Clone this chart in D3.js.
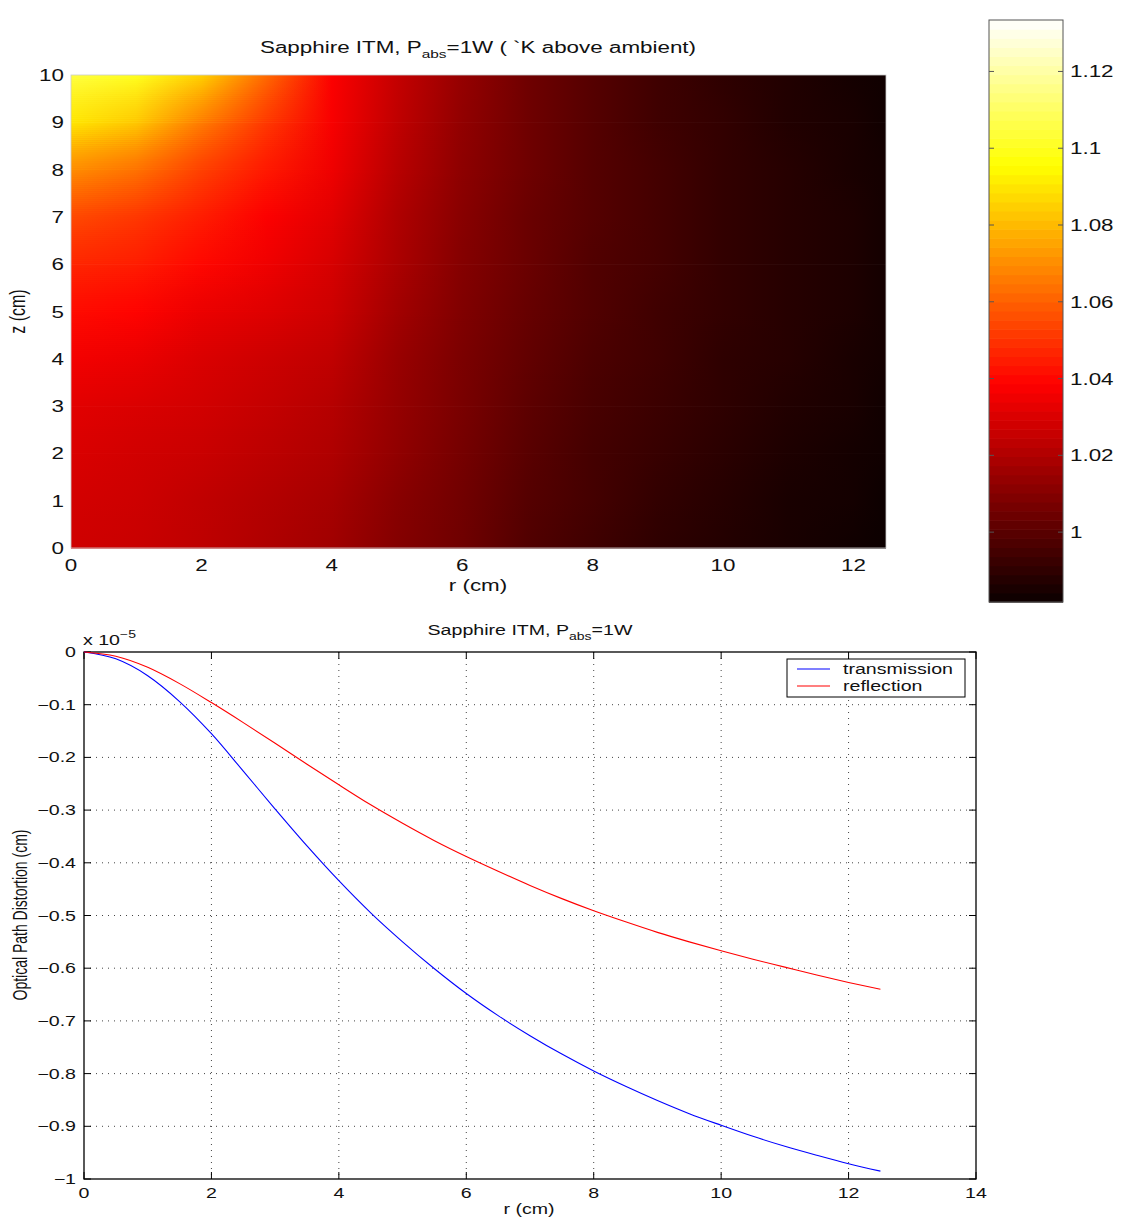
<!DOCTYPE html>
<html>
<head>
<meta charset="UTF-8">
<title>Sapphire ITM</title>
<script src="https://cdn.jsdelivr.net/npm/d3@7"></script>
<style>
  body { margin: 0; background: #fff; }
  svg { display: block; font-family: "Liberation Sans", Arial, sans-serif; }
</style>
</head>
<body>
<svg id="fig" width="1133" height="1224"></svg>
<script>
// ---- top panel: temperature above ambient (K) ----
var rGrid = [0, 1, 2, 3, 4, 5, 6, 7, 8, 9, 10, 11, 12, 12.5];
var zGrid = [10, 9, 8, 7, 6, 5, 4, 3, 2, 1, 0];
var temp = [
  [1.105, 1.100, 1.085, 1.062, 1.038, 1.025, 1.014, 1.005, 0.999, 0.994, 0.990, 0.987, 0.984, 0.983],
  [1.090, 1.083, 1.066, 1.051, 1.037, 1.024, 1.013, 1.005, 0.999, 0.994, 0.991, 0.987, 0.985, 0.983],
  [1.070, 1.064, 1.053, 1.044, 1.035, 1.022, 1.012, 1.005, 0.999, 0.995, 0.991, 0.988, 0.985, 0.984],
  [1.055, 1.051, 1.045, 1.038, 1.032, 1.020, 1.011, 1.004, 0.999, 0.995, 0.991, 0.988, 0.986, 0.984],
  [1.047, 1.045, 1.040, 1.035, 1.029, 1.019, 1.010, 1.004, 0.998, 0.995, 0.991, 0.988, 0.986, 0.984],
  [1.041, 1.039, 1.034, 1.031, 1.027, 1.017, 1.009, 1.003, 0.998, 0.994, 0.991, 0.988, 0.986, 0.984],
  [1.036, 1.034, 1.030, 1.027, 1.024, 1.015, 1.008, 1.002, 0.997, 0.994, 0.990, 0.988, 0.985, 0.984],
  [1.032, 1.030, 1.028, 1.025, 1.0215, 1.014, 1.0075, 1.001, 0.996, 0.993, 0.990, 0.987, 0.985, 0.983],
  [1.030, 1.028, 1.026, 1.023, 1.020, 1.013, 1.0065, 1.000, 0.995, 0.992, 0.989, 0.986, 0.984, 0.983],
  [1.0285, 1.027, 1.024, 1.021, 1.018, 1.011, 1.0055, 0.999, 0.995, 0.991, 0.988, 0.985, 0.984, 0.982],
  [1.0275, 1.026, 1.0235, 1.020, 1.0165, 1.010, 1.005, 0.998, 0.994, 0.990, 0.9875, 0.985, 0.983, 0.982]
];
var heatXTicks = [0, 2, 4, 6, 8, 10, 12];
var heatYTicks = [0, 1, 2, 3, 4, 5, 6, 7, 8, 9, 10];
var cbarTicks = [1, 1.02, 1.04, 1.06, 1.08, 1.1, 1.12];
var cbarRange = [0.9818, 1.1334];

// ---- bottom panel: optical path distortion (x 1e-5 cm) ----
var rLine = [0, 0.5, 1, 1.5, 2, 2.5, 3, 3.5, 4, 4.5, 5, 5.5, 6, 6.5, 7, 7.5, 8, 8.5, 9, 9.5, 10, 10.5, 11, 11.5, 12, 12.5];
var transmission = [0, -0.013, -0.045, -0.094, -0.155, -0.226, -0.298, -0.368, -0.434, -0.495, -0.550, -0.601, -0.648, -0.690,
  -0.728, -0.763, -0.795, -0.824, -0.851, -0.876, -0.898, -0.919, -0.938, -0.955, -0.971, -0.985];
var reflection = [0, -0.008, -0.029, -0.060, -0.096, -0.134, -0.173, -0.213, -0.252, -0.290, -0.325, -0.358, -0.388, -0.416,
  -0.443, -0.468, -0.491, -0.512, -0.532, -0.550, -0.567, -0.583, -0.598, -0.613, -0.627, -0.640];
var lineXTicks = [0, 2, 4, 6, 8, 10, 12, 14];
var lineYTicks = [0, -0.1, -0.2, -0.3, -0.4, -0.5, -0.6, -0.7, -0.8, -0.9, -1];

var svg = d3.select("#fig");
var defs = svg.append("defs");
var STRETCH = 1.4;   // the original figure was widened, so its lettering is too

// text drawn with the horizontal stretch of the source picture
function label(g, x, y, size, anchor) {
  return g.append("text")
    .attr("transform", "translate(" + x + "," + y + ") scale(" + STRETCH + ",1)")
    .attr("font-size", size)
    .attr("text-anchor", anchor || "middle")
    .attr("fill", "#111");
}

// MATLAB "hot" colormap over the colorbar range
var span = cbarRange[1] - cbarRange[0];
var hot = d3.scaleLinear()
  .domain([cbarRange[0], cbarRange[0] + 0.375 * span, cbarRange[0] + 0.75 * span, cbarRange[1]])
  .range(["#0b0000", "#ff0000", "#ffff00", "#ffffff"])
  .clamp(true);

// ================= heat map =================
var xH = d3.scaleLinear().domain([0, 12.5]).range([71, 886]);
var yH = d3.scaleLinear().domain([0, 10]).range([548, 75]);

// one horizontal gradient per z row of the grid
zGrid.forEach(function (z, j) {
  var grad = defs.append("linearGradient").attr("id", "row" + j)
    .attr("gradientUnits", "userSpaceOnUse")
    .attr("x1", xH(0)).attr("x2", xH(12.5)).attr("y1", 0).attr("y2", 0);
  rGrid.forEach(function (r, i) {
    grad.append("stop")
      .attr("offset", (xH(r) - xH(0)) / (xH(12.5) - xH(0)))
      .attr("stop-color", hot(temp[j][i]));
  });
});

// between two rows: lower layer is row j, row j+1 is faded in over thin strips
var nStrips = 24;
var heat = svg.append("g");
d3.range(zGrid.length - 1).forEach(function (j) {
  var y0 = yH(zGrid[j]), y1 = yH(zGrid[j + 1]);
  var h = (y1 - y0) / nStrips;
  heat.append("rect")
    .attr("x", xH(0)).attr("width", xH(12.5) - xH(0))
    .attr("y", y0).attr("height", y1 - y0 + 0.5)
    .attr("fill", "url(#row" + j + ")");
  heat.selectAll("rect.s" + j)
    .data(d3.range(nStrips))
    .enter().append("rect").attr("class", "s" + j)
    .attr("x", xH(0)).attr("width", xH(12.5) - xH(0))
    .attr("y", function (k) { return y0 + k * h; })
    .attr("height", h + 0.3)
    .attr("fill", "url(#row" + (j + 1) + ")")
    .attr("fill-opacity", function (k) { return (k + 0.5) / nStrips; });
});

svg.append("rect")
  .attr("x", xH(0)).attr("y", yH(10))
  .attr("width", xH(12.5) - xH(0)).attr("height", yH(0) - yH(10))
  .attr("fill", "none").attr("stroke", "#ccc").attr("stroke-width", 0.8);

var topG = svg.append("g");
heatXTicks.forEach(function (v) {
  label(topG, xH(v), 571, 16).text(v);
});
heatYTicks.forEach(function (v) {
  label(topG, 64, yH(v) + 6, 16, "end").text(v);
});
label(topG, 478, 591, 16).text("r (cm)");
topG.append("text")
  .attr("transform", "translate(25," + yH(5) + ") rotate(-90) scale(1," + STRETCH + ")")
  .attr("font-size", 16).attr("text-anchor", "middle").attr("fill", "#111")
  .text("z (cm)");

var t1 = label(topG, 478, 53, 16);
t1.append("tspan").text("Sapphire ITM, P");
t1.append("tspan").attr("dy", 5).attr("font-size", 11).text("abs");
t1.append("tspan").attr("dy", -5).text("=1W ( `K above ambient)");

// ================= colorbar =================
var cbX = 989, cbW = 74;
var yC = d3.scaleLinear().domain(cbarRange).range([602, 20]);
var nColors = 64;
var levels = d3.range(nColors).map(function (k) { return cbarRange[0] + k * span / nColors; });

svg.append("g").selectAll("rect")
  .data(levels)
  .enter().append("rect")
  .attr("x", cbX).attr("width", cbW)
  .attr("y", function (v) { return yC(v + span / nColors); })
  .attr("height", function (v) { return yC(v) - yC(v + span / nColors) + 0.6; })
  .attr("fill", function (v) { return hot(v + span / nColors / 2); });

svg.append("rect")
  .attr("x", cbX).attr("y", yC(cbarRange[1]))
  .attr("width", cbW).attr("height", yC(cbarRange[0]) - yC(cbarRange[1]))
  .attr("fill", "none").attr("stroke", "#555").attr("stroke-width", 1);

var cbG = svg.append("g");
cbarTicks.forEach(function (v) {
  var y = yC(v);
  cbG.append("line").attr("x1", cbX).attr("x2", cbX + 5).attr("y1", y).attr("y2", y)
    .attr("stroke", "#555");
  cbG.append("line").attr("x1", cbX + cbW - 5).attr("x2", cbX + cbW).attr("y1", y).attr("y2", y)
    .attr("stroke", "#555");
  label(cbG, cbX + cbW + 7, y + 6, 16, "start").text(+v.toFixed(2));
});

// ================= line chart =================
var x = d3.scaleLinear().domain([0, 14]).range([84, 976]);
var y = d3.scaleLinear().domain([-1, 0]).range([1179, 652]);
var fmt = d3.format("~g");
var bot = svg.append("g");

// dotted grid
bot.selectAll("line.gx")
  .data(lineXTicks.slice(1, -1))
  .enter().append("line").attr("class", "gx")
  .attr("x1", function (d) { return x(d); }).attr("x2", function (d) { return x(d); })
  .attr("y1", y(0)).attr("y2", y(-1))
  .attr("stroke", "#444").attr("stroke-width", 1).attr("stroke-dasharray", "1,5");
bot.selectAll("line.gy")
  .data(lineYTicks.slice(1, -1))
  .enter().append("line").attr("class", "gy")
  .attr("y1", function (d) { return y(d); }).attr("y2", function (d) { return y(d); })
  .attr("x1", x(0)).attr("x2", x(14))
  .attr("stroke", "#444").attr("stroke-width", 1).attr("stroke-dasharray", "1,5");

// ticks pointing inwards on all four sides
lineXTicks.forEach(function (v) {
  bot.append("line").attr("x1", x(v)).attr("x2", x(v)).attr("y1", y(-1)).attr("y2", y(-1) - 7).attr("stroke", "#000");
  bot.append("line").attr("x1", x(v)).attr("x2", x(v)).attr("y1", y(0)).attr("y2", y(0) + 7).attr("stroke", "#000");
  label(bot, x(v), y(-1) + 19, 14).text(fmt(v));
});
lineYTicks.forEach(function (v) {
  bot.append("line").attr("x1", x(0)).attr("x2", x(0) + 7).attr("y1", y(v)).attr("y2", y(v)).attr("stroke", "#000");
  bot.append("line").attr("x1", x(14)).attr("x2", x(14) - 7).attr("y1", y(v)).attr("y2", y(v)).attr("stroke", "#000");
  label(bot, x(0) - 8, y(v) + 5, 14, "end").text(fmt(v));
});

bot.append("rect")
  .attr("x", x(0)).attr("y", y(0))
  .attr("width", x(14) - x(0)).attr("height", y(-1) - y(0))
  .attr("fill", "none").attr("stroke", "#000").attr("stroke-width", 1.3);

var line = d3.line()
  .x(function (d) { return x(d[0]); })
  .y(function (d) { return y(d[1]); })
  .curve(d3.curveMonotoneX);

var series = [
  { name: "transmission", color: "#0000ff", values: transmission },
  { name: "reflection", color: "#ff0000", values: reflection }
];

bot.selectAll("path.series")
  .data(series)
  .enter().append("path").attr("class", "series")
  .attr("d", function (s) { return line(d3.zip(rLine, s.values)); })
  .attr("fill", "none")
  .attr("stroke", function (s) { return s.color; })
  .attr("stroke-width", 1.1);

// legend
var lg = bot.append("g");
lg.append("rect").attr("x", 787).attr("y", 659).attr("width", 178).attr("height", 38)
  .attr("fill", "#fff").attr("stroke", "#000").attr("stroke-width", 1);
series.forEach(function (s, i) {
  var ly = 669 + i * 17;
  lg.append("line").attr("x1", 797).attr("x2", 830).attr("y1", ly).attr("y2", ly)
    .attr("stroke", s.color).attr("stroke-width", 1.1);
  label(lg, 843, ly + 5, 14, "start").text(s.name);
});

// titles and labels
var t2 = label(bot, 530, 635, 14);
t2.append("tspan").text("Sapphire ITM, P");
t2.append("tspan").attr("dy", 5).attr("font-size", 10).text("abs");
t2.append("tspan").attr("dy", -5).text("=1W");

var ex = label(bot, 83, 645, 14, "start");
ex.append("tspan").text("x 10");
ex.append("tspan").attr("dy", -7).attr("font-size", 10).text("\u22125");

label(bot, 529, 1214, 14).text("r (cm)");
bot.append("text")
  .attr("transform", "translate(27,915) rotate(-90) scale(1," + STRETCH + ")")
  .attr("font-size", 14).attr("text-anchor", "middle").attr("fill", "#111")
  .text("Optical Path Distortion (cm)");
</script>
</body>
</html>
